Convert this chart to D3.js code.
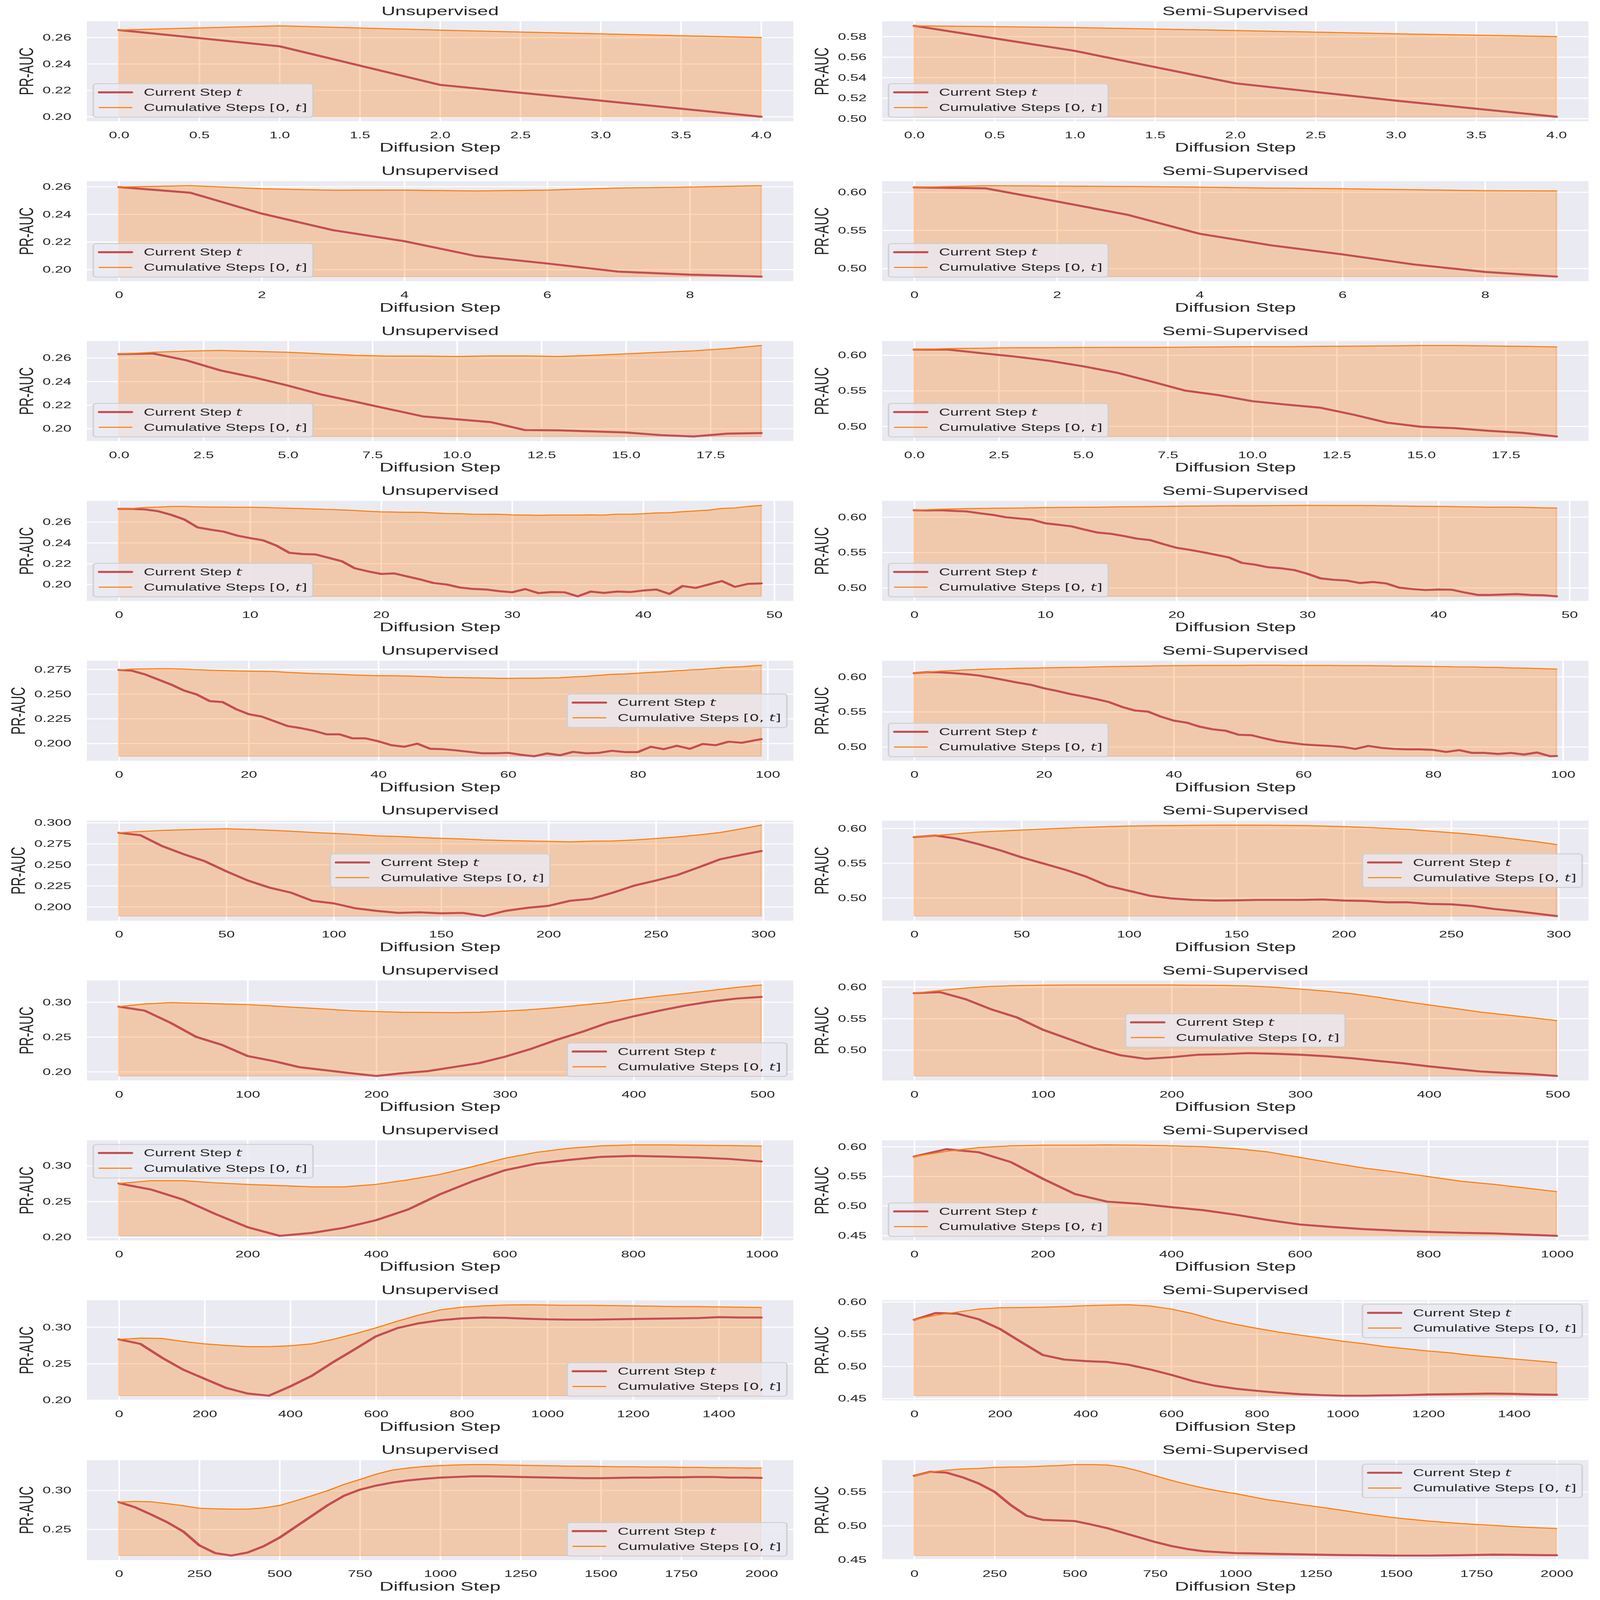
<!DOCTYPE html>
<html>
<head>
<meta charset="utf-8">
<script src="https://cdn.jsdelivr.net/npm/d3@7"></script>
<style>
  html, body { margin: 0; padding: 0; background: #fff; overflow: hidden; }
  svg { position: fixed; left: 0; top: 0; width: 100vw; height: 100vh; display: block; }
  text { fill: #262626; }
</style>
</head>
<body>
<script>
// ---- data (PR-AUC per diffusion step) ----
// short runs: one value per step; long runs: one value every k steps (last = final step)
var u5Cur = [0.2656, 0.2533, 0.2241, 0.2122, 0.2000];
var u5Cum = [0.2656, 0.2688, 0.2655, 0.2627, 0.2599];
var s5Cur = [0.5905, 0.5660, 0.5344, 0.5175, 0.5018];
var s5Cum = [0.5905, 0.5888, 0.5859, 0.5827, 0.5800];

var u10Cur = [0.2597, 0.2556, 0.2405, 0.2285, 0.2205, 0.2098, 0.2044, 0.1985, 0.1963, 0.1949];
var u10Cum = [0.2597, 0.2607, 0.2585, 0.2574, 0.2575, 0.2569, 0.2575, 0.2590, 0.2597, 0.2607];
var s10Cur = [0.6063, 0.6050, 0.5878, 0.5701, 0.5455, 0.5304, 0.5185, 0.5053, 0.4955, 0.4894];
var s10Cum = [0.6063, 0.6085, 0.6079, 0.6074, 0.6066, 0.6053, 0.6045, 0.6032, 0.6019, 0.6016];

var u20Cur = [0.2632, 0.2638, 0.2579, 0.2494, 0.2434, 0.2365, 0.2288, 0.2228, 0.2165, 0.2103,
              0.2079, 0.2055, 0.1988, 0.1985, 0.1976, 0.1967, 0.1945, 0.1933, 0.1957, 0.1962];
var u20Cum = [0.2632, 0.2648, 0.2658, 0.2663, 0.2655, 0.2648, 0.2634, 0.2622, 0.2615, 0.2615,
              0.2612, 0.2617, 0.2617, 0.2612, 0.2622, 0.2634, 0.2648, 0.2660, 0.2679, 0.2705];
var s20Cur = [0.6079, 0.6079, 0.6028, 0.5980, 0.5921, 0.5844, 0.5754, 0.5632, 0.5504, 0.5439,
              0.5354, 0.5306, 0.5263, 0.5164, 0.5051, 0.4994, 0.4975, 0.4938, 0.4909, 0.4858];
var s20Cum = [0.6079, 0.6093, 0.6099, 0.6105, 0.6105, 0.6108, 0.6110, 0.6110, 0.6113, 0.6116,
              0.6119, 0.6119, 0.6125, 0.6127, 0.6130, 0.6136, 0.6136, 0.6130, 0.6125, 0.6116];

var u50Cur = [0.2726, 0.2726, 0.2720, 0.2703, 0.2668, 0.2623, 0.2548, 0.2526, 0.2507, 0.2470,
              0.2445, 0.2424, 0.2374, 0.2304, 0.2292, 0.2288, 0.2256, 0.2223, 0.2155, 0.2126,
              0.2101, 0.2106, 0.2077, 0.2048, 0.2014, 0.2000, 0.1971, 0.1957, 0.1952, 0.1936,
              0.1925, 0.1956, 0.1917, 0.1927, 0.1925, 0.1886, 0.1932, 0.1919, 0.1932, 0.1927,
              0.1942, 0.1952, 0.1909, 0.1985, 0.1967, 0.2000, 0.2033, 0.1977, 0.2006, 0.2010];
var u50Cum = [0.2726, 0.2730, 0.2739, 0.2743, 0.2749, 0.2749, 0.2745, 0.2743, 0.2743, 0.2741,
              0.2741, 0.2739, 0.2735, 0.2732, 0.2728, 0.2724, 0.2720, 0.2716, 0.2710, 0.2703,
              0.2697, 0.2695, 0.2693, 0.2693, 0.2687, 0.2681, 0.2679, 0.2675, 0.2674, 0.2674,
              0.2668, 0.2666, 0.2664, 0.2666, 0.2666, 0.2666, 0.2668, 0.2666, 0.2675, 0.2675,
              0.2679, 0.2687, 0.2689, 0.2699, 0.2706, 0.2714, 0.2730, 0.2735, 0.2749, 0.2759];
var s50Cur = [0.6097, 0.6094, 0.6097, 0.6088, 0.6080, 0.6054, 0.6031, 0.5997, 0.5980, 0.5963,
              0.5912, 0.5892, 0.5869, 0.5823, 0.5781, 0.5764, 0.5732, 0.5695, 0.5675, 0.5618,
              0.5567, 0.5538, 0.5504, 0.5467, 0.5430, 0.5353, 0.5328, 0.5291, 0.5276, 0.5251,
              0.5199, 0.5134, 0.5114, 0.5103, 0.5068, 0.5083, 0.5063, 0.5003, 0.4983, 0.4969,
              0.4977, 0.4974, 0.4934, 0.4900, 0.4900, 0.4906, 0.4912, 0.4900, 0.4895, 0.4880];
var s50Cum = [0.6097, 0.6111, 0.6120, 0.6125, 0.6128, 0.6134, 0.6137, 0.6140, 0.6145, 0.6148,
              0.6154, 0.6157, 0.6160, 0.6160, 0.6162, 0.6165, 0.6163, 0.6163, 0.6160, 0.6154,
              0.6151, 0.6145, 0.6140, 0.6140, 0.6131, 0.6128];

var u100Cur = [0.2744, 0.2736, 0.2699, 0.2648, 0.2597, 0.2536, 0.2495, 0.2428, 0.2418, 0.2348,
               0.2296, 0.2271, 0.2224, 0.2175, 0.2155, 0.2128, 0.2092, 0.2092, 0.2051, 0.2051,
               0.2021, 0.1982, 0.1966, 0.1997, 0.1945, 0.1941, 0.1929, 0.1914, 0.1900, 0.1900,
               0.1904, 0.1884, 0.1870, 0.1898, 0.1880, 0.1914, 0.1900, 0.1904, 0.1925, 0.1912,
               0.1912, 0.1966, 0.1941, 0.1976, 0.1945, 0.1994, 0.1982, 0.2017, 0.2006, 0.2031, 0.2043];
var u100Cum = [0.2744, 0.2752, 0.2754, 0.2756, 0.2756, 0.2752, 0.2746, 0.2742, 0.2738, 0.2734,
               0.2732, 0.2730, 0.2728, 0.2719, 0.2713, 0.2707, 0.2703, 0.2699, 0.2693, 0.2689,
               0.2685, 0.2685, 0.2683, 0.2679, 0.2675, 0.2668, 0.2666, 0.2664, 0.2662, 0.2660,
               0.2658, 0.2660, 0.2660, 0.2662, 0.2664, 0.2673, 0.2679, 0.2689, 0.2699, 0.2703,
               0.2711, 0.2719, 0.2726, 0.2736, 0.2744, 0.2750, 0.2760, 0.2770, 0.2776, 0.2787, 0.2791];
var s100Cur = [0.6052, 0.6066, 0.6063, 0.6052, 0.6037, 0.6017, 0.5986, 0.5951, 0.5916, 0.5885,
               0.5836, 0.5798, 0.5755, 0.5720, 0.5683, 0.5640, 0.5571, 0.5519, 0.5504, 0.5432,
               0.5375, 0.5346, 0.5288, 0.5251, 0.5231, 0.5173, 0.5167, 0.5121, 0.5081, 0.5058,
               0.5035, 0.5023, 0.5014, 0.5000, 0.4971, 0.5014, 0.4986, 0.4971, 0.4965, 0.4965,
               0.4957, 0.4928, 0.4954, 0.4914, 0.4914, 0.4899, 0.4914, 0.4891, 0.4920, 0.4867, 0.4870];
var s100Cum = [0.6052, 0.6066, 0.6081, 0.6089, 0.6098, 0.6104, 0.6112, 0.6115, 0.6121, 0.6124,
               0.6127, 0.6130, 0.6133, 0.6135, 0.6141, 0.6144, 0.6147, 0.6150, 0.6153, 0.6156,
               0.6159, 0.6159, 0.6161, 0.6161, 0.6161, 0.6161, 0.6164, 0.6164, 0.6164, 0.6161,
               0.6161, 0.6161, 0.6161, 0.6159, 0.6159, 0.6159, 0.6156, 0.6153, 0.6153, 0.6150,
               0.6147, 0.6144, 0.6141, 0.6141, 0.6135, 0.6133, 0.6127, 0.6124, 0.6118, 0.6112, 0.6110];

var u300Cur = [0.2880, 0.2851, 0.2723, 0.2627, 0.2542, 0.2422, 0.2313, 0.2229, 0.2169, 0.2072,
               0.2041, 0.1983, 0.1952, 0.1928, 0.1935, 0.1923, 0.1928, 0.1890, 0.1952, 0.1988,
               0.2012, 0.2072, 0.2096, 0.2169, 0.2253, 0.2313, 0.2378, 0.2470, 0.2566, 0.2619, 0.2663];
var u300Cum = [0.2880, 0.2896, 0.2908, 0.2916, 0.2923, 0.2928, 0.2920, 0.2911, 0.2899, 0.2884,
               0.2872, 0.2860, 0.2843, 0.2836, 0.2824, 0.2814, 0.2807, 0.2795, 0.2788, 0.2783,
               0.2778, 0.2773, 0.2781, 0.2783, 0.2795, 0.2812, 0.2831, 0.2855, 0.2884, 0.2928, 0.2971];
var s300Cur = [0.5875, 0.5898, 0.5851, 0.5773, 0.5685, 0.5583, 0.5496, 0.5408, 0.5306, 0.5175,
               0.5102, 0.5029, 0.4991, 0.4971, 0.4962, 0.4965, 0.4971, 0.4971, 0.4971, 0.4977,
               0.4962, 0.4956, 0.4936, 0.4936, 0.4913, 0.4907, 0.4883, 0.4840, 0.4810, 0.4773, 0.4738];
var s300Cum = [0.5875, 0.5898, 0.5924, 0.5948, 0.5962, 0.5977, 0.5991, 0.6003, 0.6015, 0.6026,
               0.6035, 0.6038, 0.6041, 0.6044, 0.6047, 0.6047, 0.6047, 0.6044, 0.6041, 0.6035,
               0.6026, 0.6015, 0.6000, 0.5985, 0.5962, 0.5939, 0.5913, 0.5880, 0.5845, 0.5808, 0.5767];

var u500Cur = [0.2936, 0.2878, 0.2704, 0.2501, 0.2386, 0.2226, 0.2154, 0.2067, 0.2023, 0.1980,
               0.1940, 0.1980, 0.2009, 0.2067, 0.2125, 0.2217, 0.2328, 0.2458, 0.2574, 0.2704,
               0.2797, 0.2878, 0.2951, 0.3009, 0.3052, 0.3075];
var u500Cum = [0.2936, 0.2974, 0.2994, 0.2986, 0.2974, 0.2965, 0.2945, 0.2922, 0.2901, 0.2878,
               0.2864, 0.2855, 0.2852, 0.2849, 0.2855, 0.2872, 0.2893, 0.2922, 0.2959, 0.2994,
               0.3043, 0.3087, 0.3125, 0.3168, 0.3212, 0.3246];
var s500Cur = [0.5903, 0.5919, 0.5806, 0.5645, 0.5516, 0.5323, 0.5177, 0.5032, 0.4919, 0.4861,
               0.4887, 0.4926, 0.4935, 0.4952, 0.4942, 0.4926, 0.4903, 0.4871, 0.4829, 0.4790,
               0.4742, 0.4700, 0.4661, 0.4639, 0.4619, 0.4590];
var s500Cum = [0.5903, 0.5945, 0.5984, 0.6010, 0.6023, 0.6029, 0.6032, 0.6032, 0.6032, 0.6032,
               0.6032, 0.6029, 0.6026, 0.6016, 0.5997, 0.5968, 0.5935, 0.5894, 0.5839, 0.5774,
               0.5716, 0.5661, 0.5603, 0.5558, 0.5513, 0.5468];

var u1000Cur = [0.2752, 0.2667, 0.2526, 0.2325, 0.2141, 0.2020, 0.2060, 0.2132, 0.2239, 0.2389,
                0.2603, 0.2782, 0.2936, 0.3030, 0.3081, 0.3124, 0.3137, 0.3128, 0.3115, 0.3094, 0.3060];
var u1000Cum = [0.2752, 0.2791, 0.2791, 0.2761, 0.2739, 0.2722, 0.2705, 0.2705, 0.2739, 0.2803,
                0.2880, 0.2987, 0.3103, 0.3188, 0.3244, 0.3278, 0.3291, 0.3291, 0.3286, 0.3282, 0.3274];
var s1000Cur = [0.5835, 0.5959, 0.5907, 0.5742, 0.5459, 0.5201, 0.5072, 0.5036, 0.4979, 0.4928,
                0.4851, 0.4763, 0.4686, 0.4644, 0.4608, 0.4582, 0.4562, 0.4546, 0.4536, 0.4515, 0.4495];
var s1000Cum = [0.5835, 0.5923, 0.5985, 0.6015, 0.6026, 0.6026, 0.6031, 0.6026, 0.6015, 0.6000,
                0.5969, 0.5912, 0.5820, 0.5727, 0.5639, 0.5572, 0.5495, 0.5418, 0.5366, 0.5304, 0.5242];

var u1500Cur = [0.2833, 0.2771, 0.2583, 0.2417, 0.2292, 0.2167, 0.2090, 0.2060, 0.2188, 0.2333,
                0.2521, 0.2696, 0.2875, 0.2988, 0.3054, 0.3096, 0.3121, 0.3133, 0.3129, 0.3117,
                0.3108, 0.3104, 0.3104, 0.3108, 0.3113, 0.3117, 0.3121, 0.3125, 0.3138, 0.3133, 0.3133];
var u1500Cum = [0.2833, 0.2850, 0.2846, 0.2804, 0.2771, 0.2750, 0.2733, 0.2733, 0.2746, 0.2771,
                0.2833, 0.2908, 0.2992, 0.3083, 0.3167, 0.3238, 0.3275, 0.3292, 0.3304, 0.3308,
                0.3304, 0.3300, 0.3300, 0.3296, 0.3292, 0.3288, 0.3283, 0.3283, 0.3279, 0.3275, 0.3271];
var s1500Cur = [0.5724, 0.5829, 0.5819, 0.5733, 0.5581, 0.5376, 0.5176, 0.5105, 0.5081, 0.5067,
                0.5024, 0.4952, 0.4867, 0.4771, 0.4700, 0.4652, 0.4619, 0.4590, 0.4567, 0.4552,
                0.4543, 0.4543, 0.4548, 0.4552, 0.4562, 0.4567, 0.4571, 0.4576, 0.4571, 0.4562, 0.4557];
var s1500Cum = [0.5724, 0.5795, 0.5843, 0.5890, 0.5910, 0.5914, 0.5919, 0.5929, 0.5943, 0.5952,
                0.5957, 0.5938, 0.5890, 0.5819, 0.5724, 0.5652, 0.5590, 0.5533, 0.5486, 0.5438,
                0.5390, 0.5352, 0.5305, 0.5271, 0.5238, 0.5210, 0.5171, 0.5143, 0.5114, 0.5086, 0.5057];

var u2000Cur = [0.2849, 0.2782, 0.2690, 0.2591, 0.2472, 0.2294, 0.2194, 0.2163, 0.2202, 0.2282,
                0.2393, 0.2532, 0.2671, 0.2810, 0.2929, 0.3008, 0.3060, 0.3099, 0.3127, 0.3147,
                0.3163, 0.3171, 0.3179, 0.3179, 0.3175, 0.3171, 0.3167, 0.3163, 0.3159, 0.3155,
                0.3155, 0.3159, 0.3163, 0.3163, 0.3167, 0.3167, 0.3171, 0.3171, 0.3163, 0.3163, 0.3159];
var u2000Cum = [0.2849, 0.2857, 0.2853, 0.2829, 0.2802, 0.2770, 0.2762, 0.2758, 0.2758, 0.2774,
                0.2806, 0.2865, 0.2929, 0.2996, 0.3075, 0.3139, 0.3206, 0.3258, 0.3286, 0.3306,
                0.3317, 0.3325, 0.3329, 0.3329, 0.3325, 0.3321, 0.3317, 0.3313, 0.3310, 0.3310,
                0.3306, 0.3302, 0.3302, 0.3298, 0.3298, 0.3294, 0.3294, 0.3290, 0.3290, 0.3286, 0.3286];
var s2000Cur = [0.5736, 0.5795, 0.5782, 0.5714, 0.5623, 0.5500, 0.5305, 0.5145, 0.5086, 0.5077,
                0.5068, 0.5018, 0.4964, 0.4895, 0.4827, 0.4759, 0.4700, 0.4655, 0.4623, 0.4609,
                0.4595, 0.4591, 0.4586, 0.4582, 0.4577, 0.4573, 0.4568, 0.4566, 0.4564, 0.4561,
                0.4559, 0.4559, 0.4559, 0.4561, 0.4564, 0.4568, 0.4573, 0.4571, 0.4568, 0.4566, 0.4564];
var s2000Cum = [0.5736, 0.5791, 0.5818, 0.5836, 0.5845, 0.5859, 0.5864, 0.5868, 0.5877, 0.5886,
                0.5900, 0.5900, 0.5895, 0.5864, 0.5805, 0.5736, 0.5668, 0.5609, 0.5555, 0.5509,
                0.5473, 0.5427, 0.5382, 0.5350, 0.5314, 0.5282, 0.5250, 0.5214, 0.5177, 0.5145,
                0.5114, 0.5091, 0.5068, 0.5050, 0.5032, 0.5018, 0.5005, 0.4991, 0.4977, 0.4968, 0.4959];

// tick values
var x5Ticks = [0, 0.5, 1, 1.5, 2, 2.5, 3, 3.5, 4];
var x10Ticks = [0, 2, 4, 6, 8];
var x20Ticks = [0, 2.5, 5, 7.5, 10, 12.5, 15, 17.5];
var x50Ticks = [0, 10, 20, 30, 40, 50];
var x100Ticks = [0, 20, 40, 60, 80, 100];
var x300Ticks = [0, 50, 100, 150, 200, 250, 300];
var x500Ticks = [0, 100, 200, 300, 400, 500];
var x1000Ticks = [0, 200, 400, 600, 800, 1000];
var x1500Ticks = [0, 200, 400, 600, 800, 1000, 1200, 1400];
var x2000Ticks = [0, 250, 500, 750, 1000, 1250, 1500, 1750, 2000];
var yU02 = [0.20, 0.22, 0.24, 0.26];
var yU025 = [0.200, 0.225, 0.250, 0.275, 0.300];
var yU05 = [0.20, 0.25, 0.30];
var yS02 = [0.50, 0.52, 0.54, 0.56, 0.58];
var yS05 = [0.45, 0.50, 0.55, 0.60];

// table of panels built from the arrays above
var panels = [
  {row:0, col:0, n:5,    cur:u5Cur,    cum:u5Cum,    kc:1,  kk:1,  xt:x5Ticks,    xf:".1f", yt:yU02,  yf:".2f", leg:"lower left"},
  {row:0, col:1, n:5,    cur:s5Cur,    cum:s5Cum,    kc:1,  kk:1,  xt:x5Ticks,    xf:".1f", yt:yS02,  yf:".2f", leg:"lower left"},
  {row:1, col:0, n:10,   cur:u10Cur,   cum:u10Cum,   kc:1,  kk:1,  xt:x10Ticks,   xf:"d",   yt:yU02,  yf:".2f", leg:"lower left"},
  {row:1, col:1, n:10,   cur:s10Cur,   cum:s10Cum,   kc:1,  kk:1,  xt:x10Ticks,   xf:"d",   yt:yS05,  yf:".2f", leg:"lower left"},
  {row:2, col:0, n:20,   cur:u20Cur,   cum:u20Cum,   kc:1,  kk:1,  xt:x20Ticks,   xf:".1f", yt:yU02,  yf:".2f", leg:"lower left"},
  {row:2, col:1, n:20,   cur:s20Cur,   cum:s20Cum,   kc:1,  kk:1,  xt:x20Ticks,   xf:".1f", yt:yS05,  yf:".2f", leg:"lower left"},
  {row:3, col:0, n:50,   cur:u50Cur,   cum:u50Cum,   kc:1,  kk:1,  xt:x50Ticks,   xf:"d",   yt:yU02,  yf:".2f", leg:"lower left"},
  {row:3, col:1, n:50,   cur:s50Cur,   cum:s50Cum,   kc:1,  kk:2,  xt:x50Ticks,   xf:"d",   yt:yS05,  yf:".2f", leg:"lower left"},
  {row:4, col:0, n:100,  cur:u100Cur,  cum:u100Cum,  kc:2,  kk:2,  xt:x100Ticks,  xf:"d",   yt:yU025, yf:".3f", leg:"center right"},
  {row:4, col:1, n:100,  cur:s100Cur,  cum:s100Cum,  kc:2,  kk:2,  xt:x100Ticks,  xf:"d",   yt:yS05,  yf:".2f", leg:"lower left"},
  {row:5, col:0, n:300,  cur:u300Cur,  cum:u300Cum,  kc:10, kk:10, xt:x300Ticks,  xf:"d",   yt:yU025, yf:".3f", leg:"center"},
  {row:5, col:1, n:300,  cur:s300Cur,  cum:s300Cum,  kc:10, kk:10, xt:x300Ticks,  xf:"d",   yt:yS05,  yf:".2f", leg:"center right"},
  {row:6, col:0, n:500,  cur:u500Cur,  cum:u500Cum,  kc:20, kk:20, xt:x500Ticks,  xf:"d",   yt:yU05,  yf:".2f", leg:"lower right"},
  {row:6, col:1, n:500,  cur:s500Cur,  cum:s500Cum,  kc:20, kk:20, xt:x500Ticks,  xf:"d",   yt:yS05,  yf:".2f", leg:"center"},
  {row:7, col:0, n:1000, cur:u1000Cur, cum:u1000Cum, kc:50, kk:50, xt:x1000Ticks, xf:"d",   yt:yU05,  yf:".2f", leg:"upper left"},
  {row:7, col:1, n:1000, cur:s1000Cur, cum:s1000Cum, kc:50, kk:50, xt:x1000Ticks, xf:"d",   yt:yS05,  yf:".2f", leg:"lower left"},
  {row:8, col:0, n:1500, cur:u1500Cur, cum:u1500Cum, kc:50, kk:50, xt:x1500Ticks, xf:"d",   yt:yU05,  yf:".2f", leg:"lower right"},
  {row:8, col:1, n:1500, cur:s1500Cur, cum:s1500Cum, kc:50, kk:50, xt:x1500Ticks, xf:"d",   yt:yS05,  yf:".2f", leg:"upper right"},
  {row:9, col:0, n:2000, cur:u2000Cur, cum:u2000Cum, kc:50, kk:50, xt:x2000Ticks, xf:"d",   yt:yU05,  yf:".2f", leg:"lower right"},
  {row:9, col:1, n:2000, cur:s2000Cur, cum:s2000Cum, kc:50, kk:50, xt:x2000Ticks, xf:"d",   yt:yS05,  yf:".2f", leg:"upper right"}
];
var titles = ["Unsupervised", "Semi-Supervised"];

// ---- layout / style ----
var W = 4752, H = 7454;
var colLeft = [258, 2620], plotW = 2098, plotH = 466;
var top0 = 99, rowPitch = 744.8;
var RED = "#C44E52", ORANGE = "#FF7F0E", BG = "#EAEAF2";
var FONT = "'Liberation Sans', Arial, sans-serif", MATH = "'DejaVu Sans', sans-serif";

// the figure is laid out in 4752x7454 units and stretched over the whole window
var svg = d3.select("body").append("svg")
    .attr("viewBox", "0 0 " + W + " " + H)
    .attr("preserveAspectRatio", "none")
    .attr("xmlns", "http://www.w3.org/2000/svg");
svg.append("rect").attr("width", W).attr("height", H).attr("fill", "#fff");

// attach a step number to every value (k = sampling interval, last point = final step)
function withSteps(vals, k, n) {
    return vals.map(function(v, i) { return {s: Math.min(i * k, n - 1), v: v}; });
}

panels.forEach(function(p) {
    var g = svg.append("g")
        .attr("transform", "translate(" + colLeft[p.col] + "," + (top0 + p.row * rowPitch) + ")");
    var cur = withSteps(p.cur, p.kc, p.n);
    var cum = withSteps(p.cum, p.kk, p.n);

    var lo = d3.min(p.cur), hi = Math.max(d3.max(p.cum), d3.max(p.cur));
    var xm = (p.n - 1) * 0.05, ym = (hi - lo) * 0.05;
    var x = d3.scaleLinear().domain([-xm, p.n - 1 + xm]).range([0, plotW]);
    var y = d3.scaleLinear().domain([lo - ym, hi + ym]).range([plotH, 0]);
    var xT = p.xt.filter(function(t) { return t >= x.domain()[0] && t <= x.domain()[1]; });
    var yT = p.yt.filter(function(t) { return t >= y.domain()[0] && t <= y.domain()[1]; });

    g.append("rect").attr("width", plotW).attr("height", plotH).attr("fill", BG);

    // grid (white, below the data)
    var gx = g.append("g").attr("transform", "translate(0," + plotH + ")")
        .call(d3.axisBottom(x).tickValues(xT).tickSize(-plotH).tickFormat(""));
    var gy = g.append("g")
        .call(d3.axisLeft(y).tickValues(yT).tickSize(-plotW).tickFormat(""));
    [gx, gy].forEach(function(a) {
        a.select(".domain").remove();
        a.selectAll("line").attr("stroke", "#fff").attr("stroke-width", 4.75);
    });

    // fill between min(current) and cumulative
    var area = d3.area().x(function(d) { return x(d.s); })
        .y0(y(lo)).y1(function(d) { return y(d.v); });
    g.append("path").datum(cum).attr("d", area)
        .attr("fill", ORANGE).attr("fill-opacity", 0.3)
        .attr("stroke", ORANGE).attr("stroke-opacity", 0.3).attr("stroke-width", 4.75);

    var line = d3.line().x(function(d) { return x(d.s); }).y(function(d) { return y(d.v); });
    g.append("path").datum(cur).attr("d", line).attr("fill", "none")
        .attr("stroke", RED).attr("stroke-width", 9.5)
        .attr("stroke-linejoin", "round").attr("stroke-linecap", "round");
    g.append("path").datum(cum).attr("d", line).attr("fill", "none")
        .attr("stroke", ORANGE).attr("stroke-width", 5)
        .attr("stroke-linejoin", "round").attr("stroke-linecap", "round");

    // tick labels
    var ax = g.append("g").attr("transform", "translate(0," + plotH + ")")
        .call(d3.axisBottom(x).tickValues(xT).tickSize(0).tickPadding(48).tickFormat(d3.format(p.xf)));
    var ay = g.append("g")
        .call(d3.axisLeft(y).tickValues(yT).tickSize(0).tickPadding(46).tickFormat(d3.format(p.yf)));
    [ax, ay].forEach(function(a) {
        a.select(".domain").remove();
        a.attr("font-family", FONT).attr("font-size", 44);
        a.selectAll("text").attr("fill", "#262626");
    });

    // title and axis labels
    g.append("text").attr("x", plotW / 2).attr("y", -28).attr("text-anchor", "middle")
        .attr("font-family", FONT).attr("font-size", 57).text(titles[p.col]);
    g.append("text").attr("x", plotW / 2).attr("y", plotH + 142).attr("text-anchor", "middle")
        .attr("font-family", FONT).attr("font-size", 58).text("Diffusion Step");
    var bx = ay.node().getBBox().x - 28;
    g.append("text").attr("transform", "translate(" + bx + "," + (plotH / 2) + ") rotate(-90)")
        .attr("text-anchor", "middle")
        .attr("font-family", FONT).attr("font-size", 58).text("PR-AUC");

    // legend
    var lg = g.append("g");
    var box = lg.append("rect").attr("rx", 10).attr("ry", 10)
        .attr("fill", BG).attr("fill-opacity", 0.8)
        .attr("stroke", "#cccccc").attr("stroke-opacity", 0.8).attr("stroke-width", 4.75);
    lg.append("line").attr("x1", 18).attr("x2", 114).attr("y1", 40).attr("y2", 40)
        .attr("stroke", RED).attr("stroke-width", 9.5).attr("stroke-linecap", "round");
    lg.append("line").attr("x1", 18).attr("x2", 114).attr("y1", 111).attr("y2", 111)
        .attr("stroke", ORANGE).attr("stroke-width", 5).attr("stroke-linecap", "round");
    var t1 = lg.append("text").attr("x", 150).attr("y", 56)
        .attr("font-family", FONT).attr("font-size", 46);
    t1.append("tspan").text("Current Step ");
    t1.append("tspan").attr("font-family", MATH).attr("font-style", "italic").text("t");
    var t2 = lg.append("text").attr("x", 150).attr("y", 127)
        .attr("font-family", FONT).attr("font-size", 46);
    t2.append("tspan").text("Cumulative Steps ");
    t2.append("tspan").attr("font-family", MATH).text("[0, ");
    t2.append("tspan").attr("font-family", MATH).attr("font-style", "italic").text("t");
    t2.append("tspan").attr("font-family", MATH).text("]");
    var tw = Math.max(t1.node().getComputedTextLength(), t2.node().getComputedTextLength());
    var lw = 150 + tw + 17, lh = 156, pad = 19;
    box.attr("width", lw).attr("height", lh);
    var lx, ly;
    if (p.leg.indexOf("left") >= 0) lx = pad;
    else if (p.leg.indexOf("right") >= 0) lx = plotW - pad - lw;
    else lx = (plotW - lw) / 2;
    if (p.leg.indexOf("lower") >= 0) ly = plotH - pad - lh;
    else if (p.leg.indexOf("upper") >= 0) ly = pad;
    else ly = (plotH - lh) / 2;
    lg.attr("transform", "translate(" + lx + "," + ly + ")");
});
</script>
</body>
</html>
